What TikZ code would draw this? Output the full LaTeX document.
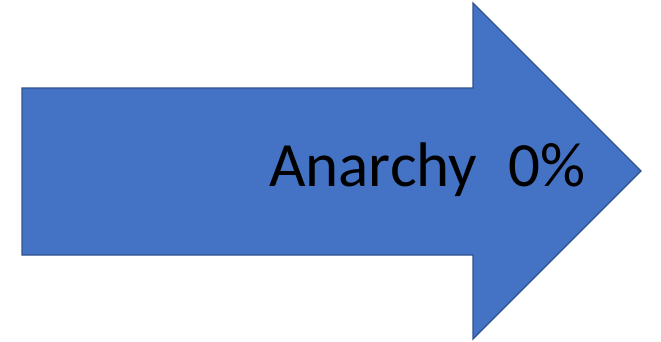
\documentclass[tikz,border=0pt]{standalone}
\usepackage{fontspec}
\setmainfont{Carlito}
\definecolor{arrowfill}{HTML}{4472C4}
\definecolor{arrowline}{HTML}{2F528F}
\begin{document}
\begin{tikzpicture}[x=1pt,y=-1pt,
  bigarrow/.style={fill=arrowfill,draw=arrowline,line width=1.3pt,line join=miter},
  label/.style={inner sep=0pt,font=\fontsize{63}{63}\selectfont,text=black}]
\useasboundingbox (0,0) rectangle (661,341);
\draw[bigarrow] (22,88) -- (473,88) -- (473,3) -- (641,171) -- (473,339) -- (473,255) -- (22,255) -- cycle;
\node[label,anchor=base west] (t) at (269,186) {Anarchy\hspace{0.5em}0\%};
\end{tikzpicture}
\end{document}
